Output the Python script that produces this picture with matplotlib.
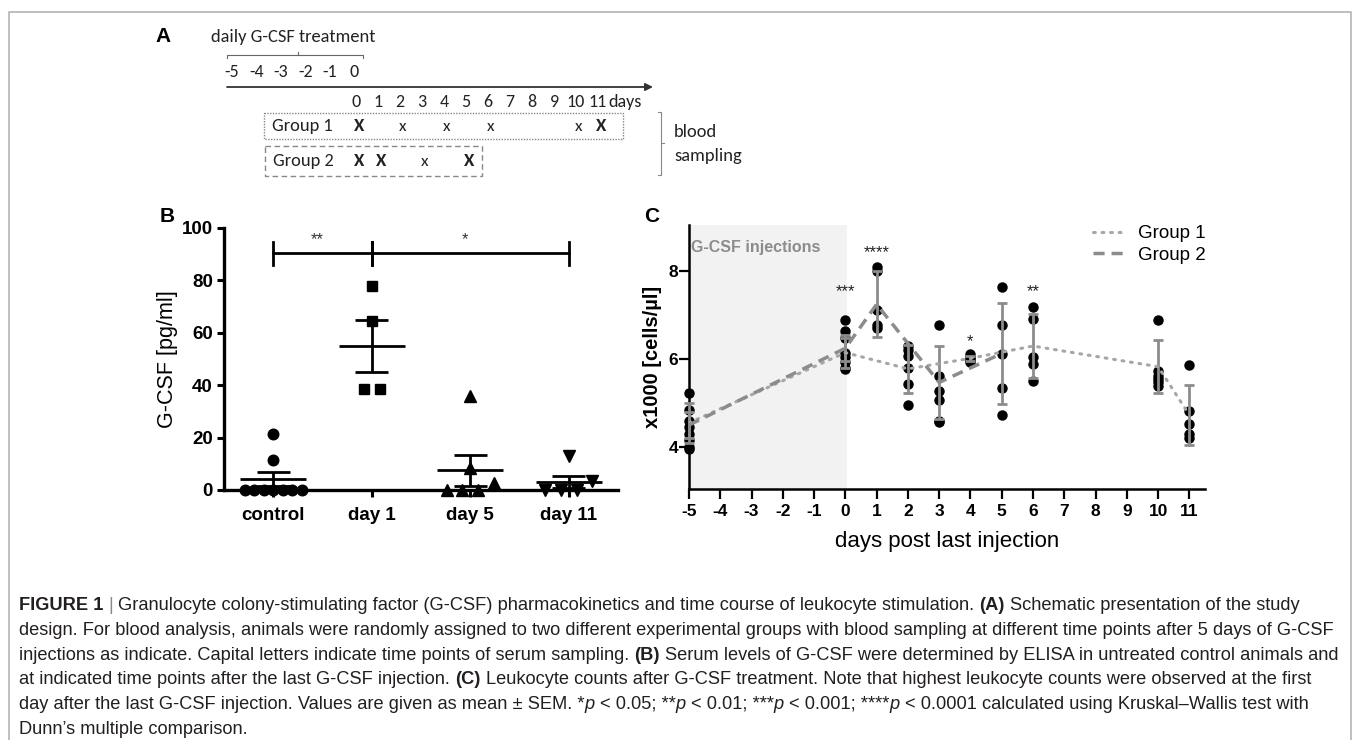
import matplotlib
matplotlib.use('Agg')
import matplotlib.pyplot as plt
from matplotlib import font_manager
from matplotlib.patches import Rectangle

W, H = 1357, 740

# ---- panel A: study design ----
treat_days = [-5, -4, -3, -2, -1, 0]
follow_days = list(range(0, 12))
g1_serum_days = [0, 11]
g1_blood_days = [2, 4, 6, 10]
g2_serum_days = [0, 1, 5]
g2_blood_days = [3]

# ---- panel B: serum G-CSF ----
b_groups = ['control', 'day 1', 'day 5', 'day 11']
b_values = [
    [21.5, 11.5, 0, 0, 0, 0, 0, 0, 0],
    [78, 64.5, 38.5, 38.5],
    [36, 8.5, 2.5, 0, 0, 0],
    [13, 3.5, 0, 0, 0],
]
b_mean = [4.2, 54.8, 7.6, 3.2]
b_sem = [2.7, 9.9, 5.9, 2.3]
b_brackets = [(0, 1, '**'), (1, 3, '*')]
b_bracket_y = 90.4

# ---- panel C: leukocyte counts ----
c_days = [-5, 0, 1, 2, 3, 4, 5, 6, 10, 11]
c_points = [
    [5.23, 4.85, 4.6, 4.45, 4.3, 4.15, 4.0, 3.96],
    [6.89, 6.64, 6.49, 6.15, 6.04, 5.93, 5.81, 5.78],
    [8.1, 8.02, 7.13, 6.79, 6.72],
    [6.3, 6.2, 6.08, 5.81, 5.44, 4.96],
    [6.78, 5.62, 5.27, 5.08, 4.6, 4.57],
    [6.12, 6.05, 6.0, 5.96, 5.93],
    [7.65, 6.79, 6.12, 5.34, 4.73],
    [7.19, 6.92, 6.04, 5.88, 5.51],
    [6.89, 5.74, 5.62, 5.55, 5.47, 5.40],
    [5.87, 4.83, 4.53, 4.3, 4.2],
]
g1_days = [-5, 0, 2, 4, 6, 10, 11]
g1_mean = [4.55, 6.15, 5.78, 6.02, 6.3, 5.83, 4.73]
g1_sem = [0.45, 0.34, 0.55, 0.06, 0.72, 0.6, 0.68]
g2_days = [-5, 0, 1, 3, 5]
g2_mean = [4.5, 6.25, 7.25, 5.47, 6.13]
g2_sem = [0.3, 0.3, 0.75, 0.83, 1.15]
star_days = [0, 1, 4, 6]
star_text = ['***', '****', '*', '**']
star_y = [7.53, 8.42, 6.39, 7.55]

caption = [
    [('FIGURE 1', 'bold', 'normal'), (' | ', 'normal', 'normal'),
     ('Granulocyte colony-stimulating factor (G-CSF) pharmacokinetics and time course of leukocyte stimulation.', 'normal', 'normal'),
     (' (A)', 'bold', 'normal'), (' Schematic presentation of the study', 'normal', 'normal')],
    [('design. For blood analysis, animals were randomly assigned to two different experimental groups with blood sampling at different time points after 5 days of G-CSF', 'normal', 'normal')],
    [('injections as indicate. Capital letters indicate time points of serum sampling.', 'normal', 'normal'),
     (' (B)', 'bold', 'normal'),
     (' Serum levels of G-CSF were determined by ELISA in untreated control animals and', 'normal', 'normal')],
    [('at indicated time points after the last G-CSF injection.', 'normal', 'normal'),
     (' (C)', 'bold', 'normal'),
     (' Leukocyte counts after G-CSF treatment. Note that highest leukocyte counts were observed at the first', 'normal', 'normal')],
    [('day after the last G-CSF injection. Values are given as mean \u00b1 SEM. *', 'normal', 'normal'),
     ('p', 'normal', 'italic'), (' < 0.05; **', 'normal', 'normal'),
     ('p', 'normal', 'italic'), (' < 0.01; ***', 'normal', 'normal'),
     ('p', 'normal', 'italic'), (' < 0.001; ****', 'normal', 'normal'),
     ('p', 'normal', 'italic'), (' < 0.0001 calculated using Kruskal\u2013Wallis test with', 'normal', 'normal')],
    [('Dunn\u2019s multiple comparison.', 'normal', 'normal')],
]

installed = {f.name for f in font_manager.fontManager.ttflist}


def pick(*names):
    for n in names:
        if n in installed:
            return n
    return 'DejaVu Sans'


SANS = pick('Liberation Sans', 'Arial')
NARROW = pick('Liberation Sans Narrow', 'Liberation Sans')
SCHEME = pick('Carlito', 'Lato', 'Open Sans')
plt.rcParams['font.family'] = SANS
plt.rcParams['axes.unicode_minus'] = False

fig = plt.figure(figsize=(W / 100, H / 100), dpi=100)
renderer = fig.canvas.get_renderer()


def fx(x):
    return x / W


def fy(y):
    return 1 - y / H


# overlay in pixel units for the schematic and the frame
axA = fig.add_axes([0, 0, 1, 1])
axA.set_xlim(0, W)
axA.set_ylim(H, 0)
axA.axis('off')

# frame
axA.plot([9, 9, 1351, 1351], [745, 12, 12, 745], color='#b4b4b4', lw=1.2)

# ---- A ----
def pre_x(d):
    return 354 + d * 24.4


def post_x(d):
    return 356 + d * 22


TXT = dict(family=SCHEME, color='#222', va='center')
axA.text(163, 37, 'A', fontsize=15, weight='bold', ha='center', va='center')
axA.text(211, 37, 'daily G-CSF treatment', fontsize=13.3, ha='left', **TXT)
axA.plot([227, 227, 363, 363], [58, 55, 55, 58], color='#666', lw=0.8)
axA.plot([298, 298], [55, 52], color='#666', lw=0.8)
for d in treat_days:
    axA.text(pre_x(d), 72, str(d), fontsize=13, ha='center', **TXT)
axA.annotate('', xy=(653, 87), xytext=(227, 87),
             arrowprops=dict(arrowstyle='-|>', lw=1.3, color='#333', mutation_scale=11, shrinkA=0, shrinkB=0))
for d in follow_days:
    axA.text(post_x(d), 102, str(d), fontsize=13, ha='center', **TXT)
axA.text(post_x(11) + 10, 102, 'days', fontsize=13, ha='left', **TXT)

axA.add_patch(Rectangle((264, 113), 359, 26, fill=False, ec='#888', lw=1, ls=(0, (1, 1))))
axA.add_patch(Rectangle((265, 146), 217, 30, fill=False, ec='#888', lw=1, ls=(0, (4, 2.5))))
axA.text(272, 126, 'Group 1', fontsize=13.3, ha='left', **TXT)
axA.text(273, 161, 'Group 2', fontsize=13.3, ha='left', **TXT)
for d in g1_serum_days:
    axA.text(post_x(d) + 3, 126, 'X', fontsize=13.5, weight='bold', ha='center', **TXT)
for d in g1_blood_days:
    axA.text(post_x(d) + 3, 127, 'x', fontsize=12.5, ha='center', **TXT)
for d in g2_serum_days:
    axA.text(post_x(d) + 3, 161, 'X', fontsize=13.5, weight='bold', ha='center', **TXT)
for d in g2_blood_days:
    axA.text(post_x(d) + 3, 162, 'x', fontsize=12.5, ha='center', **TXT)

axA.plot([658, 661, 661, 658], [112, 112, 175, 175], color='#888', lw=0.8)
axA.plot([661, 664], [143, 143], color='#888', lw=0.8)
axA.text(674, 132, 'blood', fontsize=13.3, ha='left', **TXT)
axA.text(674, 156, 'sampling', fontsize=13.3, ha='left', **TXT)

# ---- B ----
def swarm(vals, step, tol=4):
    order = sorted(range(len(vals)), key=lambda i: vals[i])
    offs = [0.0] * len(vals)
    groups, cur = [], [order[0]]
    for i in order[1:]:
        if vals[i] - vals[cur[-1]] < tol:
            cur.append(i)
        else:
            groups.append(cur)
            cur = [i]
    groups.append(cur)
    for g in groups:
        n = len(g)
        for k, i in enumerate(g):
            offs[i] = (k - (n - 1) / 2) * step
    return offs


axB = fig.add_axes([fx(224), fy(490), (618 - 224) / W, (490 - 228) / H])
b_markers = ['o', 's', '^', 'v']
b_msize = [7.6, 7.4, 8.4, 8.4]
b_step = [0.097, 0.16, 0.16, 0.16]
for i, vals in enumerate(b_values):
    offs = swarm(vals, b_step[i])
    axB.plot([i + o for o in offs], vals, ls='none', marker=b_markers[i], ms=b_msize[i],
             color='black', clip_on=False, zorder=3)
    m, s = b_mean[i], b_sem[i]
    axB.hlines(m, i - 0.335, i + 0.335, color='black', lw=2, zorder=4)
    axB.vlines(i, m - s, m + s, color='black', lw=2, zorder=4)
    axB.hlines([m - s, m + s], i - 0.165, i + 0.165, color='black', lw=2, zorder=4)

for a, b, lab in b_brackets:
    axB.plot([a, b], [b_bracket_y, b_bracket_y], color='black', lw=2)
    for xx in (a, b):
        axB.plot([xx, xx], [85.7, 94.8], color='black', lw=2)
    axB.text((a + b) / 2 - 0.05, 95.5, lab, ha='center', va='center', fontsize=12, color='#333')

axB.set_xlim(-0.5, 3.5)
axB.set_ylim(0, 100)
axB.set_yticks([0, 20, 40, 60, 80, 100])
axB.set_xticks(range(len(b_groups)))
axB.set_xticklabels(b_groups)
for sp in ('top', 'right'):
    axB.spines[sp].set_visible(False)
for sp in ('left', 'bottom'):
    axB.spines[sp].set_linewidth(2.4)
axB.tick_params(axis='y', length=5, width=2.2, pad=3, labelsize=13.5)
axB.tick_params(axis='x', length=5, width=2.2, pad=7, labelsize=13.5)
for lab in axB.get_xticklabels() + axB.get_yticklabels():
    lab.set_fontweight('bold')
axB.set_ylabel('G-CSF [pg/ml]', fontsize=15.5, va='center')
axB.yaxis.set_label_coords((167 - 224) / 394, 0.5)
axB.patch.set_visible(False)
fig.text(fx(167), fy(217), 'B', fontsize=15, weight='bold', ha='center', va='center')

# ---- C ----
axC = fig.add_axes([fx(689), fy(488.7), (1205 - 689) / W, (488.7 - 225.3) / H])
axC.axvspan(-5, 0.05, color='#f2f2f2', zorder=0, lw=0)
for d, pts in zip(c_days, c_points):
    axC.plot([d] * len(pts), pts, ls='none', marker='o', ms=6.5, color='black', clip_on=False, zorder=3)
axC.errorbar(g1_days, g1_mean, yerr=g1_sem, fmt='none', ecolor='#8c8c8c', elinewidth=2,
             capsize=3.6, capthick=2, zorder=4, clip_on=False)
axC.errorbar(g2_days, g2_mean, yerr=g2_sem, fmt='none', ecolor='#8c8c8c', elinewidth=2,
             capsize=3.6, capthick=2, zorder=4, clip_on=False)
axC.plot(g1_days, g1_mean, color='#a6a6a6', lw=2.2, ls=(0, (0.6, 2.2)), dash_capstyle='round',
         zorder=5, label='Group 1')
axC.plot(g2_days, g2_mean, color='#8c8c8c', lw=2.5, ls=(0, (3.2, 2)), zorder=5, label='Group 2')
for d, t, yv in zip(star_days, star_text, star_y):
    axC.text(d, yv, t, ha='center', va='center', fontsize=12, color='#222')
axC.text(-4.93, 8.54, 'G-CSF injections', ha='left', va='center', fontsize=11.5,
         weight='bold', color='#8c8c8c')

axC.set_xlim(-5, 11.5)
axC.set_ylim(3.05, 9.05)
axC.set_xticks(range(-5, 12))
axC.set_yticks([4, 6, 8])
for sp in ('top', 'right'):
    axC.spines[sp].set_visible(False)
for sp in ('left', 'bottom'):
    axC.spines[sp].set_linewidth(1.8)
axC.tick_params(axis='both', length=7, width=1.6, labelsize=12.5)
axC.tick_params(axis='x', pad=4)
axC.tick_params(axis='y', pad=1)
for lab in axC.get_xticklabels() + axC.get_yticklabels():
    lab.set_fontweight('bold')
axC.set_ylabel('x1000 [cells/\u00b5l]', fontsize=14.5, weight='bold', va='center')
axC.yaxis.set_label_coords((653 - 689) / 516, 0.5)
axC.set_xlabel('days post last injection', fontsize=16, va='center')
axC.xaxis.set_label_coords(0.5, -(541.7 - 488.7) / 263.4)
axC.patch.set_visible(False)
leg = axC.legend(loc='upper left', bbox_to_anchor=(fx(1093), fy(225)), bbox_transform=fig.transFigure,
                 frameon=False, fontsize=13.5, handlelength=1.6, handletextpad=0.8,
                 labelspacing=0.25, borderpad=0, borderaxespad=0)
fig.text(fx(652), fy(216), 'C', fontsize=15, weight='bold', ha='center', va='center')

# ---- caption ----
def measure(s, size, weight='normal', style='normal'):
    t = fig.text(0, 0, s, fontsize=size, family=NARROW, weight=weight, style=style)
    w = t.get_window_extent(renderer=renderer).width
    t.remove()
    return w


ref_w = measure(caption[1][0][0], 10)
cap_size = 10 * (1322 / ref_w)
space_w = measure('a a', cap_size) - measure('aa', cap_size)
line_y0, line_dy = 606, 24.6
for k, runs in enumerate(caption):
    x = 19
    y = line_y0 + k * line_dy
    for s, weight, style in runs:
        if s.startswith(' '):
            x += space_w
        body = s.strip()
        trail = s.endswith(' ') and len(s.strip()) > 0
        if body:
            col = '#888' if body == '|' else '#231f20'
            t = fig.text(fx(x), fy(y), body, fontsize=cap_size, family=NARROW, weight=weight,
                         style=style, ha='left', va='center', color=col)
            x += t.get_window_extent(renderer=renderer).width
        if trail:
            x += space_w

fig.savefig('out.png', dpi=100)
